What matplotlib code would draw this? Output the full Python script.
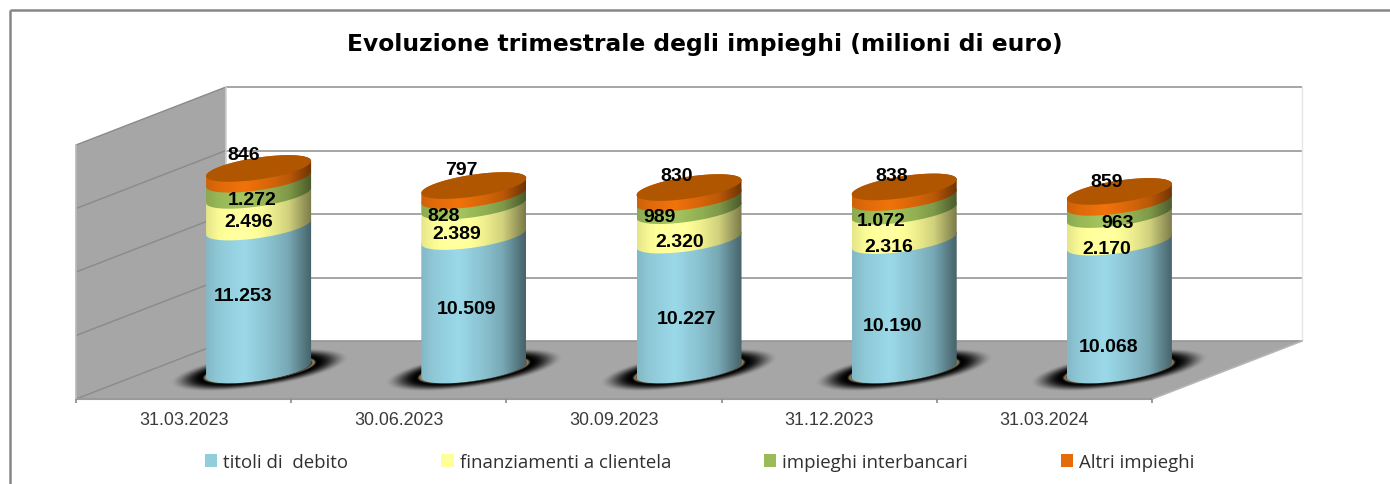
import numpy as np
import matplotlib
matplotlib.use("Agg")
import matplotlib.pyplot as plt
from matplotlib.patches import Polygon, Rectangle

# ---------- data ----------
periods = ["31.03.2023", "30.06.2023", "30.09.2023", "31.12.2023", "31.03.2024"]
titoli = [11253, 10509, 10227, 10190, 10068]
finanziamenti = [2496, 2389, 2320, 2316, 2170]
interbancari = [1272, 828, 989, 1072, 963]
altri = [846, 797, 830, 838, 859]
series_names = ["titoli di  debito", "finanziamenti a clientela", "impieghi interbancari", "Altri impieghi"]
grid_values = [0, 5000, 10000, 15000, 20000]

# ---------- layout / style ----------
W, H = 1390, 485
PX_CAT, PX_VAL = 215.2, 0.0127
X0, Y0 = 183.6, 400.0
DX, DY = 150 / PX_CAT, 58 / PX_VAL
RX, RY, SLOPE = 52.5, 11.0, -0.143
colors = ["#92CDDC", "#FFFF99", "#9BBB59", "#E46C0A"]
GRAY = "#A6A6A6"


def xd(px):
    return (px - X0) / PX_CAT


def yd(py):
    return (Y0 - py) / PX_VAL


# label centres (pixels), one row per category, same order as the series
label_px = [
    [(243, 297), (249, 223), (252, 201), (244, 156)],
    [(466, 310), (457, 235), (444, 217), (461, 171)],
    [(687, 320), (680, 243), (660, 218), (677, 177)],
    [(892, 327), (889, 248), (881, 222), (892, 177)],
    [(1109, 348), (1107, 250), (1118, 224), (1107, 183)],
]

fig = plt.figure(figsize=(W / 100, H / 100), dpi=100, facecolor="white")
ax = fig.add_axes([0, 0, 1, 1])
ax.set_axis_off()

frame = dict(color="#868686", lw=1.8, solid_capstyle="butt", zorder=1)

# walls and floor
x_l, x_r = -0.5, len(periods) - 0.5
top = grid_values[-1]
ax.add_patch(Polygon([(x_l, 0), (x_l + DX, DY), (x_l + DX, DY + top), (x_l, top)], fc=GRAY, ec="none", zorder=2))
ax.add_patch(Polygon([(x_l, 0), (x_r, 0), (x_r + DX, DY), (x_l + DX, DY)], fc=GRAY, ec="none", zorder=2))
for g in grid_values:
    ax.plot([x_l + DX, x_r + DX], [DY + g, DY + g], color="#969696", lw=1.2, solid_capstyle="butt", zorder=3)
    ax.plot([x_l, x_l + DX], [g, DY + g], color="#8A8A8A", lw=1.0, solid_capstyle="butt", zorder=3)
ax.plot([x_l + DX, x_l + DX], [DY, DY + top], color="#CFCFCF", lw=1.2, zorder=3)
ax.plot([x_r + DX, x_r + DX], [DY, DY + top], color="#E6E6E6", lw=1.0, zorder=3)
ax.plot([x_r, x_r + DX], [0, DY], color="#B5B5B5", lw=1.2, zorder=3)
ax.plot([x_l, x_r], [0, 0], color="#9A9A9A", lw=1.5, solid_capstyle="butt", zorder=3)
ax.plot([x_l, x_l], [0, top], color="#B8B8B8", lw=1.2, zorder=3)
for t in np.arange(len(periods) + 1) - 0.5:
    ax.plot([t, t], [0, -4 / PX_VAL], color="#8A8A8A", lw=1.2, solid_capstyle="butt", zorder=3)

# shading profile across a cylinder
prof_x = np.array([0.0, 0.12, 0.36, 0.62, 0.78, 0.92, 1.0])
prof_v = np.array([0.90, 0.98, 1.06, 0.93, 0.82, 0.60, 0.48])
u = np.linspace(0, 1, 220)
shade = np.interp(u, prof_x, prof_v)


def gradient(color):
    rgb = np.array(matplotlib.colors.to_rgb(color))
    row = np.clip(shade[:, None] * rgb[None, :], 0, 1)
    return np.repeat(row[None, :, :], 4, axis=0)


t_front = np.linspace(np.pi, 2 * np.pi, 70)  # left -> right along the front edge
t_back = np.linspace(0, np.pi, 70)           # right -> left along the back edge
t_all = np.linspace(0, 2 * np.pi, 140)


def arc(cx, value, t):
    ca = RX * np.cos(t)
    x = cx + ca / PX_CAT
    y = DY / 2 + value + (-SLOPE * ca + RY * np.sin(t)) / PX_VAL
    return np.column_stack([x, y])


stack = np.array([titoli, finanziamenti, interbancari, altri], dtype=float)

for i, period in enumerate(periods):
    cx = i + DX / 2
    # floor shadow
    sw, sh = 105, 28
    gx, gy = np.meshgrid(np.arange(-sw, sw + 1), np.arange(-sh, sh + 1))
    dv = gy - SLOPE * gx
    r = np.sqrt((gx / 90.0) ** 2 + (dv / 18.0) ** 2)
    alpha = np.clip((1.0 - r) / 0.36, 0, 1)
    alpha = alpha * alpha * (3 - 2 * alpha)
    img = np.zeros(gx.shape + (4,))
    img[..., 3] = alpha
    ring = np.clip(1 - np.abs(r - 0.60) / 0.035, 0, 1)[..., None]
    img[..., :3] = ring * np.array([0.62, 0.56, 0.42])
    ax.imshow(img, extent=[cx - sw / PX_CAT, cx + sw / PX_CAT, DY / 2 - sh / PX_VAL, DY / 2 + sh / PX_VAL],
              origin="upper", aspect="auto", interpolation="bilinear", zorder=4)

    # stacked cylinder segments: each reaches up to the back of its top ellipse,
    # the next segment then paints over that part
    base = 0.0
    for k, color in enumerate(colors):
        v = stack[k, i]
        pts = np.vstack([arc(cx, base, t_front), arc(cx, base + v, t_back)])
        clip = Polygon(pts, closed=True, transform=ax.transData, fc="none", ec="none")
        im = ax.imshow(gradient(color),
                       extent=[cx - RX / PX_CAT, cx + RX / PX_CAT,
                               DY / 2 + base - 30 / PX_VAL, DY / 2 + base + v + 30 / PX_VAL],
                       aspect="auto", interpolation="bilinear", zorder=5 + k * 0.1)
        im.set_clip_path(clip)
        base += v
    # top cap
    ax.add_patch(Polygon(arc(cx, base, t_all), closed=True, fc="#B05600", ec="none", zorder=6))

    # data labels
    for k in range(len(colors)):
        txt = f"{int(stack[k, i]):,}".replace(",", ".")
        lx, ly = label_px[i][k]
        ax.text(xd(lx), yd(ly), txt, ha="center", va="center", fontsize=14, fontweight="bold",
                family="Liberation Sans", color="black", zorder=8)
    ax.text(i, yd(421), period, ha="center", va="center", fontsize=12.9,
            family="Liberation Sans", color="#3C3C3C", zorder=8)

ax.set_xlim(xd(0), xd(W))
ax.set_ylim(yd(H), yd(0))

# frame
ax.plot([xd(10), xd(10)], [yd(H), yd(11)], **frame)
ax.plot([xd(10), xd(W)], [yd(11), yd(11)], **frame)

# title
ax.text(xd(705), yd(44.5), "Evoluzione trimestrale degli impieghi (milioni di euro)", ha="center", va="center",
        fontsize=16.8, fontweight="bold", family="DejaVu Sans", color="black", zorder=8)

# legend
handles = [Rectangle((0, 0), 1, 1, fc=c, ec="none") for c in colors]
leg = ax.legend(handles, series_names, loc="center", bbox_to_anchor=(700 / W, 1 - 463 / H), ncol=4,
                frameon=False, handlelength=0.65, handleheight=0.65, handletextpad=0.33, columnspacing=5.0,
                prop={"family": "Open Sans", "size": 13.4}, borderpad=0, labelcolor="#303030")

fig.savefig("out.png", dpi=100)
